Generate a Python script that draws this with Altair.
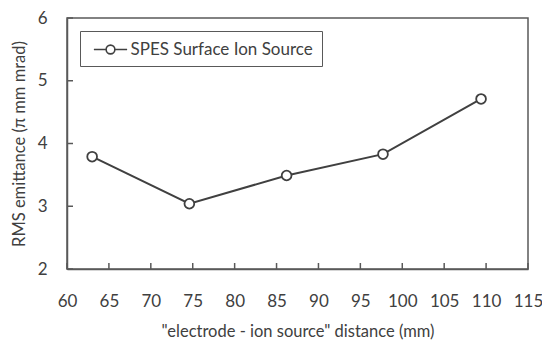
import altair as alt
import pandas as pd

series_name = "SPES Surface Ion Source"
distance_mm = [63, 74.6, 86.2, 97.7, 109.4]
emittance = [3.79, 3.04, 3.49, 3.83, 4.71]
x_ticks = [60, 65, 70, 75, 80, 85, 90, 95, 100, 105, 110, 115]
y_ticks = [2, 3, 4, 5, 6]

df = pd.DataFrame({"d": distance_mm, "e": emittance, "s": [series_name] * len(distance_mm)})
xt = pd.DataFrame({"t": x_ticks})
yt = pd.DataFrame({"t": y_ticks})

FONT = "Lato"
GRAY = "#404040"
W, H = 461, 251

xscale = alt.Scale(domain=[60, 115], nice=False, zero=False)
yscale = alt.Scale(domain=[2, 6], nice=False, zero=False)

legend_symbol = ("M-1.9,0L-0.5,0M0.5,0L1.9,0"
                 "M0.5,0A0.5,0.5 0 1,0 -0.5,0A0.5,0.5 0 1,0 0.5,0Z")

base = alt.Chart(df)
line = base.mark_line(strokeWidth=2).encode(
    x=alt.X("d:Q", scale=xscale,
            axis=alt.Axis(values=x_ticks, format="d", title='"electrode - ion source" distance (mm)',
                          tickSize=0, labelPadding=24, titlePadding=14, grid=False,
                          labelOverlap=False, labelFlush=False,
                          domainColor="#595959", domainWidth=1.5)),
    y=alt.Y("e:Q", scale=yscale,
            axis=alt.Axis(values=y_ticks, format="d", title="RMS emittance (π mm mrad)",
                          tickSize=0, labelPadding=20, titlePadding=10, grid=False,
                          labelOverlap=False,
                          domainColor="#595959", domainWidth=1.5)),
    color=alt.Color("s:N", scale=alt.Scale(range=[GRAY]),
                    legend=alt.Legend(title=None, orient="none", legendX=13, legendY=13,
                                      symbolType=legend_symbol, symbolSize=306,
                                      symbolOffset=12,
                                      symbolStrokeWidth=1.6, symbolFillColor="white",
                                      symbolStrokeColor=GRAY,
                                      labelFont=FONT, labelFontSize=17, labelColor=GRAY,
                                      labelLimit=0,
                                      strokeColor="#595959", padding=8.5,
                                      labelOffset=10)),
)
points = base.mark_point(shape="circle", filled=True, fill="white", stroke=GRAY,
                         strokeWidth=1.8, size=95, opacity=1).encode(
    x=alt.X("d:Q", scale=xscale),
    y=alt.Y("e:Q", scale=yscale),
)
xtick_rules = alt.Chart(xt).mark_rule(color="#595959", strokeWidth=1.5).encode(
    x=alt.X("t:Q", scale=xscale), y=alt.value(H), y2=alt.value(H - 6)
)
ytick_rules = alt.Chart(yt).mark_rule(color="#595959", strokeWidth=1.5).encode(
    y=alt.Y("t:Q", scale=yscale), x=alt.value(0), x2=alt.value(6)
)

chart = alt.layer(xtick_rules, ytick_rules, line, points).properties(
    width=W, height=H, background="white", autosize="none",
    padding={"left": 59, "top": 10, "right": 14, "bottom": 72}
).configure_view(stroke="#595959", strokeWidth=1.5).configure_axis(
    labelFont=FONT, labelFontSize=17, labelColor=GRAY,
    titleFont=FONT, titleFontSize=16.5, titleColor=GRAY, titleFontWeight="normal"
)

chart.save("out.html", embed_options={"renderer": "svg", "actions": False})
